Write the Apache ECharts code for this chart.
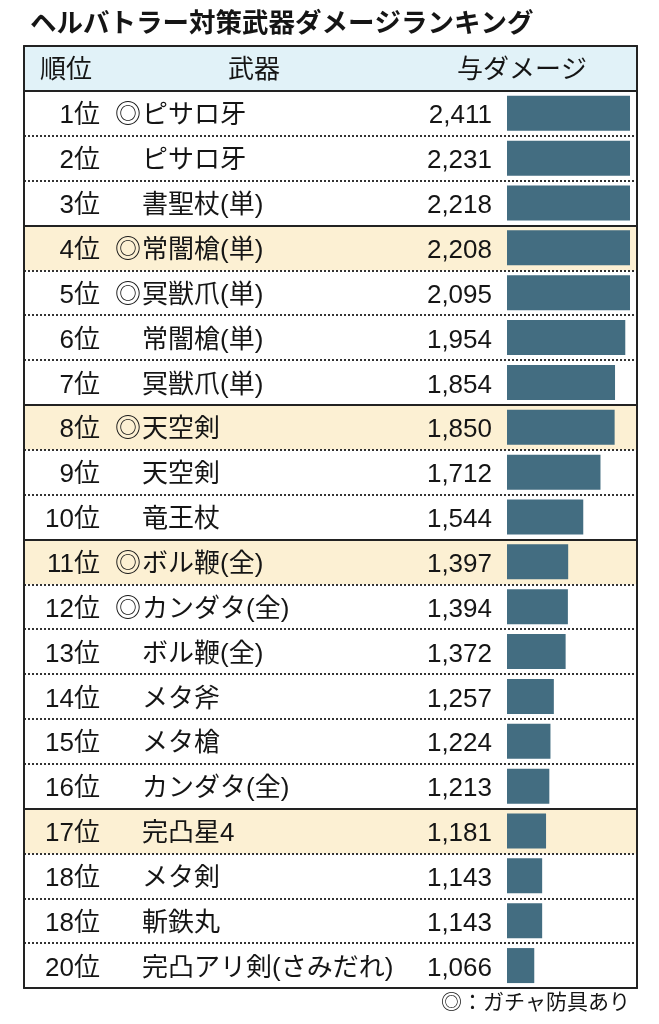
<!DOCTYPE html>
<html><head><meta charset="utf-8">
<script src="https://cdn.jsdelivr.net/npm/echarts@6/dist/echarts.min.js"></script>
<style>html,body{margin:0;padding:0;background:#fff}#c{width:659px;height:1024px}</style>
</head><body><div id="c"></div>
<script>
const titleText = 'ヘルバトラー対策武器ダメージランキング';
const headers = ['順位', '武器', '与ダメージ'];
const footnote = '◎：ガチャ防具あり';
const ranks = ['1位','2位','3位','4位','5位','6位','7位','8位','9位','10位','11位','12位','13位','14位','15位','16位','17位','18位','18位','20位'];
const weapons = ['ピサロ牙','ピサロ牙','書聖杖(単)','常闇槍(単)','冥獣爪(単)','常闇槍(単)','冥獣爪(単)','天空剣','天空剣','竜王杖','ボル鞭(全)','カンダタ(全)','ボル鞭(全)','メタ斧','メタ槍','カンダタ(全)','完凸星4','メタ剣','斬鉄丸','完凸アリ剣(さみだれ)'];
const gacha = [true,false,false,true,true,false,false,true,false,false,true,true,false,false,false,false,false,false,false,false];
const damage = [2411,2231,2218,2208,2095,1954,1854,1850,1712,1544,1397,1394,1372,1257,1224,1213,1181,1143,1143,1066];
const highlightRows = [4, 8, 11, 17];

const FONT = "'Liberation Sans','Noto Sans CJK JP',sans-serif";
const TXT = '#151515';
const FS = 26;
const tableTop = 46, tableH = 942, nRows = ranks.length + 1, rowH = tableH / nRows;

const chart = echarts.init(document.getElementById('c'), null, {renderer: 'canvas'});
const fmt = v => Number(v).toLocaleString('en-US');
const border = {show: true, onZero: false, lineStyle: {color: '#222', width: 2}};
const richStyle = {
  m: {width: 27, fontSize: FS, color: TXT, fontFamily: FONT},
  n: {fontSize: FS, color: TXT, fontFamily: FONT}
};
const lbl = {interval: 0, margin: 0, fontSize: FS, color: TXT, fontFamily: FONT, padding: [6, 0, 0, 0], rich: richStyle};
const plain = v => '{n|' + v + '}';

chart.setOption({
  animation: false,
  backgroundColor: '#fff',
  textStyle: {fontFamily: FONT},
  grid: [
    {left: 24, top: tableTop, width: 613, height: tableH, outerBoundsMode: 'none'},
    {left: 507, top: tableTop + rowH, width: 123, height: tableH - rowH, outerBoundsMode: 'none'}
  ],
  xAxis: [
    {gridIndex: 0, type: 'value', min: 0, max: 1, position: 'bottom', z: 5,
     axisLine: border, axisTick: {show: false}, axisLabel: {show: false}, splitLine: {show: false}},
    {gridIndex: 0, type: 'value', min: 0, max: 1, position: 'top', z: 5,
     axisLine: border, axisTick: {show: false}, axisLabel: {show: false}, splitLine: {show: false}},
    {gridIndex: 1, type: 'value', min: 800, max: 2000, show: false}
  ],
  yAxis: [
    {gridIndex: 0, type: 'value', min: 0, max: nRows, interval: 1, inverse: true, position: 'left', z: 5,
     axisLine: border, axisTick: {show: false}, axisLabel: {show: false},
     splitLine: {show: true, lineStyle: {color: '#333', width: 2, type: [2, 2]}}},
    {gridIndex: 0, type: 'value', min: 0, max: nRows, inverse: true, position: 'right', z: 5,
     axisLine: border, axisTick: {show: false}, axisLabel: {show: false}, splitLine: {show: false}},
    {gridIndex: 1, type: 'category', data: ranks, inverse: true, position: 'left', offset: 407, z: 6,
     axisLine: {show: false}, axisTick: {show: false}, splitLine: {show: false},
     axisLabel: Object.assign({align: 'right', formatter: plain}, lbl)},
    {gridIndex: 1, type: 'category', data: weapons, inverse: true, position: 'left', offset: 392, z: 6,
     axisLine: {show: false}, axisTick: {show: false}, splitLine: {show: false},
     axisLabel: Object.assign({align: 'left',
       formatter: (v, i) => (gacha[i] ? '{m|◎}' : '{m|}') + '{n|' + v + '}'}, lbl)},
    {gridIndex: 1, type: 'category', data: damage.map(fmt), inverse: true, position: 'left', offset: 15, z: 6,
     axisLine: {show: false}, axisTick: {show: false}, splitLine: {show: false},
     axisLabel: Object.assign({align: 'right', formatter: plain}, lbl)}
  ],
  series: [
    {type: 'line', xAxisIndex: 0, yAxisIndex: 0, data: [], z: 1, silent: true,
     markArea: {silent: true, itemStyle: {color: '#fcf0d3'},
       data: [[{yAxis: 0, itemStyle: {color: '#e1f2f8'}}, {yAxis: 1}]].concat(highlightRows.map(r => [{yAxis: r}, {yAxis: r + 1}]))},
     markLine: {silent: true, symbol: 'none', label: {show: false}, lineStyle: {color: '#222', width: 2, type: 'solid'},
       data: [{yAxis: 1}].concat(highlightRows.map(r => ({yAxis: r})))}
    },
    {type: 'bar', xAxisIndex: 2, yAxisIndex: 2, data: damage, barWidth: 35, clip: true, z: 3,
     itemStyle: {color: '#436d81'}, silent: true}
  ],
  graphic: [
    {type: 'text', z: 20, x: 30, y: 25, style: {text: titleText, font: 'bold 26.5px ' + FONT, fill: TXT, textVerticalAlign: 'middle', textAlign: 'left'}},
    {type: 'text', z: 20, x: 40, y: tableTop + rowH / 2 + 2, style: {text: headers[0], font: FS + 'px ' + FONT, fill: TXT, textVerticalAlign: 'middle', textAlign: 'left'}},
    {type: 'text', z: 20, x: 254, y: tableTop + rowH / 2 + 2, style: {text: headers[1], font: FS + 'px ' + FONT, fill: TXT, textVerticalAlign: 'middle', textAlign: 'center'}},
    {type: 'text', z: 20, x: 457, y: tableTop + rowH / 2 + 2, style: {text: headers[2], font: FS + 'px ' + FONT, fill: TXT, textVerticalAlign: 'middle', textAlign: 'left'}},
    {type: 'text', z: 20, x: 630, y: 1003, style: {text: footnote, font: '21px ' + FONT, fill: TXT, textVerticalAlign: 'middle', textAlign: 'right'}}
  ]
});
</script>
</body></html>
